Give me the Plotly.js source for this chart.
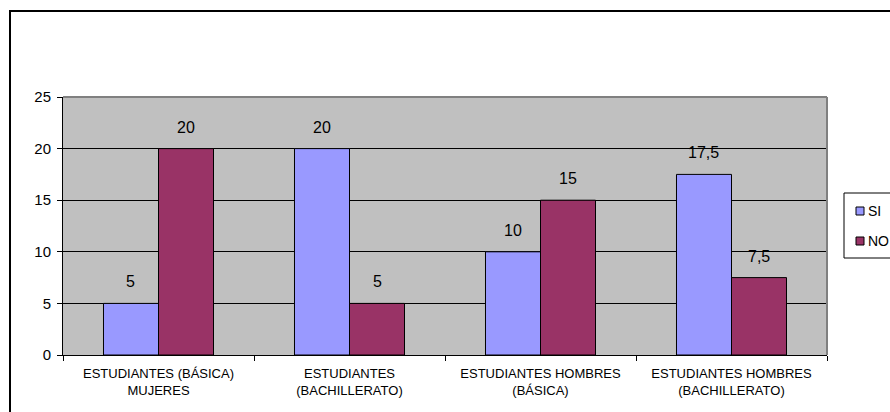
<!DOCTYPE html>
<html>
<head>
<meta charset="utf-8">
<script src="https://cdn.plot.ly/plotly-3.0.1.min.js"></script>
<style>
html,body{margin:0;padding:0;background:#fff;overflow:hidden;}
#wrap{position:relative;width:890px;height:412px;overflow:hidden;}
#chart{width:890px;height:412px;}
#frame{position:absolute;left:9px;top:10px;width:1000px;height:1000px;border-left:2px solid #000;border-top:2px solid #000;pointer-events:none;}
</style>
</head>
<body>
<div id="wrap"><div id="chart"></div><div id="frame"></div></div>
<script>
const categories = [
  "ESTUDIANTES (BÁSICA)<br>MUJERES",
  "ESTUDIANTES<br>(BACHILLERATO)",
  "ESTUDIANTES HOMBRES<br>(BÁSICA)",
  "ESTUDIANTES HOMBRES<br>(BACHILLERATO)"
];
const seriesNames = ["SI", "NO"];
const siValues = [5, 20, 10, 17.5];
const noValues = [20, 5, 15, 7.5];
const yTicks = [0, 5, 10, 15, 20, 25];

const colors = ["#9999FF", "#993366"];
const font = "Liberation Sans, Arial, sans-serif";

// plot area in pixels
const L = 63, R = 827, T = 97, B = 355;
const px = x => (x - L) / (R - L);
const py = y => (B - y) / (B - T);

const fmt = v => String(v).replace(".", ",");
const series = [siValues, noValues];
const traces = series.map((vals, s) => ({
  type: "bar", name: seriesNames[s], x: categories, y: vals,
  marker: {color: colors[s], line: {color: "#000", width: 1}},
  hoverinfo: "none"
}));

// data labels placed via the axes (category + value), offset to each bar of the group
const barHalf = (R - L) / categories.length * (1 - 0.424) / 4;
const annotations = [];
series.forEach((vals, s) => {
  vals.forEach((v, i) => {
    annotations.push({
      x: categories[i], y: v, xref: "x", yref: "y",
      xshift: s === 0 ? -barHalf : barHalf, yshift: 11,
      text: fmt(v), showarrow: false, xanchor: "center", yanchor: "bottom",
      font: {family: font, size: 16, color: "#000"}
    });
  });
});

// legend drawn manually
const shapes = [
  {type:"line", xref:"paper", yref:"paper", x0:0, x1:1, y0:1, y1:1, line:{color:"#808080", width:2}, layer:"above"},
  {type:"line", xref:"paper", yref:"paper", x0:1, x1:1, y0:0, y1:1, line:{color:"#808080", width:2}, layer:"above"},
  {type:"rect", xref:"paper", yref:"paper", x0:px(844), x1:px(960), y0:py(258), y1:py(193),
   line:{color:"#000", width:1}, fillcolor:"#fff", layer:"above"}
];
seriesNames.forEach((n, s) => {
  const cy = 211 + s * 30;
  shapes.push({type:"rect", xref:"paper", yref:"paper", x0:px(856), x1:px(864), y0:py(cy + 4), y1:py(cy - 4),
    line:{color:"#000", width:1}, fillcolor:colors[s], layer:"above"});
  annotations.push({xref:"paper", yref:"paper", x:px(866), y:py(cy), text:n, showarrow:false,
    xanchor:"left", yanchor:"middle", font:{family:font, size:14, color:"#000"}});
});

const layout = {
  width: 890, height: 412,
  margin: {l: L, r: 890 - R, t: T, b: 412 - B, autoexpand: false},
  paper_bgcolor: "#fff", plot_bgcolor: "#C0C0C0",
  barmode: "group", bargap: 0.424, bargroupgap: 0,
  font: {family: font, color: "#000"},
  showlegend: false,
  xaxis: {type:"category", showgrid:false, showline:true, linecolor:"#000", linewidth:1,
    ticks:"outside", tickson:"boundaries", ticklen:5, tickcolor:"#000", ticklabelstandoff:6,
    tickfont:{family:font, size:13, color:"#000"}, fixedrange:true},
  yaxis: {range:[0,25], tickvals:yTicks, showgrid:true, gridcolor:"#000", gridwidth:1,
    showline:true, linecolor:"#000", linewidth:1, ticks:"outside", ticklen:5, tickcolor:"#000",
    ticklabelstandoff:3, zeroline:false, tickfont:{family:font, size:15, color:"#000"}, fixedrange:true},
  shapes: shapes,
  annotations: annotations
};
Plotly.newPlot("chart", traces, layout, {displayModeBar:false, staticPlot:true});
</script>
</body>
</html>
